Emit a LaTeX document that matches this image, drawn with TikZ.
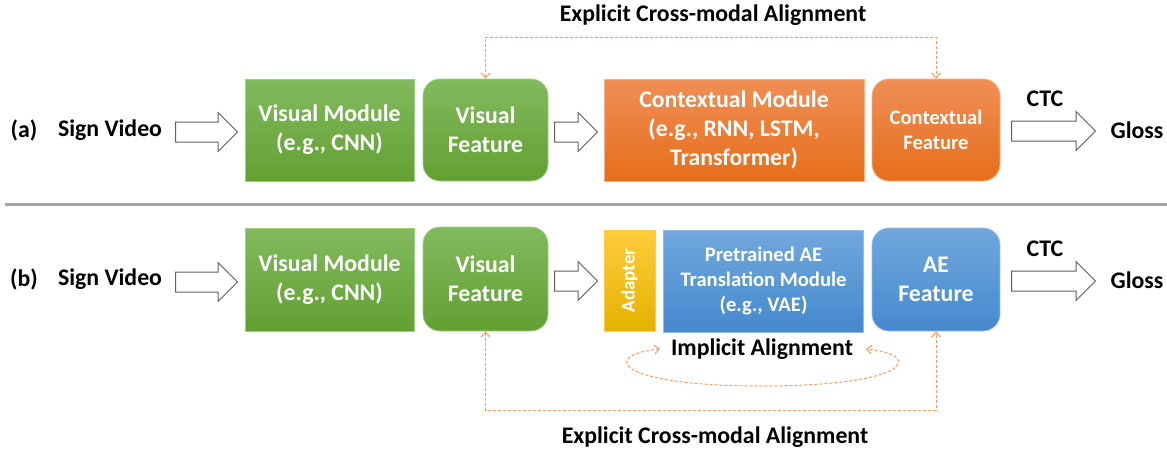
\documentclass[tikz,border=0pt]{standalone}
\usepackage{fontspec}
\setmainfont{Carlito}
\usetikzlibrary{shapes.arrows,arrows.meta}
\definecolor{gtop}{RGB}{130,186,94}
\definecolor{gbot}{RGB}{98,160,50}
\definecolor{gline}{RGB}{160,205,130}
\definecolor{otop}{RGB}{240,142,86}
\definecolor{obot}{RGB}{230,110,26}
\definecolor{oline}{RGB}{245,175,135}
\definecolor{btop}{RGB}{112,168,222}
\definecolor{bbot}{RGB}{70,136,206}
\definecolor{bline}{RGB}{150,190,230}
\definecolor{ylight}{RGB}{255,204,60}
\definecolor{ymid}{RGB}{255,192,0}
\definecolor{ydark}{RGB}{228,178,0}
\definecolor{dashc}{RGB}{244,155,100}
\definecolor{arrc}{RGB}{95,95,95}
\definecolor{sepc}{RGB}{165,165,165}
\begin{document}
\begin{tikzpicture}[x=1pt,y=-1pt,
  lbl/.style={font=\bfseries\fontsize{23.8}{28}\selectfont, text=black, inner sep=0pt, align=center},
  boxbase/.style={rectangle, text=white, align=center, inner sep=0pt, line width=0.8pt,
    font=\bfseries\fontsize{23.8}{29}\selectfont},
  gbox/.style={boxbase, top color=gtop, bottom color=gbot, draw=gline},
  obox/.style={boxbase, top color=otop, bottom color=obot, draw=oline},
  bbox/.style={boxbase, top color=btop, bottom color=bbot, draw=bline},
  rnd/.style={rounded corners=17pt},
  harrow/.style={single arrow, draw=arrc, fill=white, line width=1pt, inner xsep=0pt,
    inner ysep=9.5pt, outer sep=0pt, single arrow head extend=9.5pt, single arrow tip angle=90, anchor=tail},
  align line/.style={draw=dashc, line width=1pt, dash pattern=on 3pt off 2pt,
    arrows={Straight Barb[length=5pt,width=9pt]-Straight Barb[length=5pt,width=9pt]}},
]
\useasboundingbox (0,0) rectangle (1167,450);

% ---------- row (a) ----------
\node[lbl] (la) at (24,130) {(a)};
\node[lbl] (sva) at (110,130) {Sign Video};
\node[harrow, minimum height=62pt] (a1) at (175.5,132) {};
\node[gbox, minimum width=169pt, minimum height=102pt] (vma) at (329.5,130) {Visual Module\\(e.g., CNN)};
\node[gbox, rnd, minimum width=125pt, minimum height=102pt] (vfa) at (485.5,130) {Visual\\Feature};
\node[harrow, minimum height=43pt] (a2) at (554.5,132) {};
\node[obox, minimum width=260pt, minimum height=102pt] (cma) at (734,130) {Contextual Module\\(e.g., RNN, LSTM,\\Transformer)};
\node[obox, rnd, minimum width=128pt, minimum height=102pt,
  font=\bfseries\fontsize{20.6}{24.5}\selectfont] (cfa) at (936,130) {Contextual\\Feature};
\node[harrow, minimum height=84pt] (a3) at (1011.5,131) {};
\node[lbl] (ctca) at (1045,99) {CTC};
\node[lbl] (gla) at (1137,130) {Gloss};

\coordinate (topy) at (0,37);
\draw[align line] (vfa.north) -- (vfa.north |- topy) -- (cfa.north |- topy) -- (cfa.north);
\node[lbl] (expa) at (713,15) {Explicit Cross-modal Alignment};

% ---------- separator ----------
\coordinate (s1) at (5,204);
\coordinate (s2) at (1167,204);
\draw[sepc, line width=3pt] (s1) -- (s2);

% ---------- row (b) ----------
\node[lbl] (lb) at (24,279) {(b)};
\node[lbl] (svb) at (110,279) {Sign Video};
\node[harrow, minimum height=62pt] (b1) at (175.5,282) {};
\node[gbox, minimum width=169pt, minimum height=103pt] (vmb) at (329.5,279.5) {Visual Module\\(e.g., CNN)};
\node[gbox, rnd, minimum width=125pt, minimum height=104pt] (vfb) at (485.5,279) {Visual\\Feature};
\node[harrow, minimum height=43pt] (b2) at (554.5,281) {};
\node[boxbase, rotate=90, minimum width=101pt, minimum height=51pt, top color=ylight, middle color=ymid,
  bottom color=ydark, draw=ylight, font=\bfseries\fontsize{19}{23}\selectfont] (adb) at (629.5,280.5) {Adapter};
\node[bbox, minimum width=200pt, minimum height=102pt,
  font=\bfseries\fontsize{20.6}{25}\selectfont] (aeb) at (763.5,281) {Pretrained AE\\Translation Module\\(e.g., VAE)};
\node[bbox, rnd, minimum width=128pt, minimum height=103pt] (afb) at (936,279.5) {AE\\Feature};
\node[harrow, minimum height=84pt] (b3) at (1011.5,281) {};
\node[lbl] (ctcb) at (1045,249) {CTC};
\node[lbl] (glb) at (1137,280) {Gloss};

\node[lbl] (impl) at (762,349) {Implicit Alignment};
\coordinate (il) at (660,349);
\coordinate (ir) at (866,349);
\draw[align line] (il) .. controls (600,355) and (615,386) .. (762,386)
  .. controls (910,386) and (925,355) .. (ir);

\coordinate (boty) at (0,410);
\draw[align line] (vfb.south) -- (vfb.south |- boty) -- (afb.south |- boty) -- (afb.south);
\node[lbl] (expb) at (715,437) {Explicit Cross-modal Alignment};
\end{tikzpicture}
\end{document}
